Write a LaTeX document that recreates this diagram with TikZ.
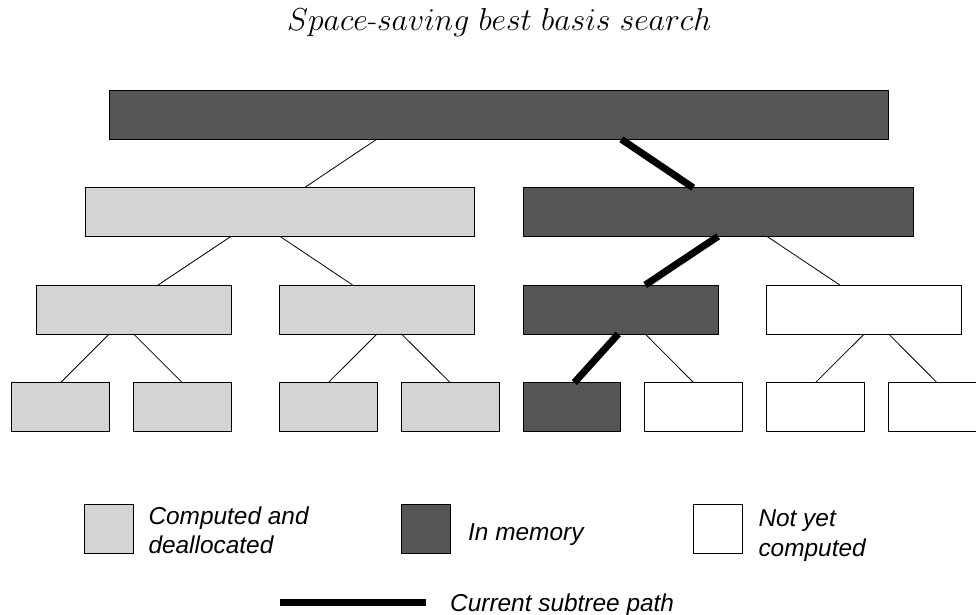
\documentclass[tikz,border=0pt]{standalone}
\usepackage{fontspec}
\newfontfamily\legfont{Liberation Sans}
\usetikzlibrary{calc}
\definecolor{lightg}{RGB}{212,212,212}
\definecolor{darkg}{RGB}{85,85,85}
\begin{document}
\begin{tikzpicture}[x=1bp,y=-1bp,
  box/.style={draw=black, line width=0.8bp, inner sep=0pt, outer sep=0pt},
  done/.style={box, fill=lightg},
  mem/.style={box, fill=darkg},
  todo/.style={box, fill=white},
  lvA/.style={minimum width=779.4bp, minimum height=49bp},
  lvB/.style={minimum width=389.7bp, minimum height=48.6bp},
  lvC/.style={minimum width=195.2bp, minimum height=49bp},
  lvD/.style={minimum width=97.5bp, minimum height=48.8bp},
  sq/.style={minimum width=49bp, minimum height=49bp},
  conn/.style={draw=black, line width=0.8bp},
  cur/.style={draw=black, line width=7bp},
  leg/.style={font=\legfont\itshape\fontsize{24.5}{29}\selectfont, anchor=base west, inner sep=0pt},
]
\useasboundingbox (0,0) rectangle (976,615);
\clip (0,0) rectangle (976,615);

% title
\node[anchor=base, inner sep=0pt, font=\fontsize{24}{29}\selectfont] (title) at (499.3,31) {\scalebox{1.28}{$Space\mbox{-}saving\ best\ basis\ search$}};

% level 0
\node[mem, lvA] (n0) at (499,114.8) {};
% level 1
\node[done, lvB] (n1a) at (279.85,212) {};
\node[mem, lvB] (n1b) at (718.15,212) {};
% level 2
\node[done, lvC] (n2a) at (133.65,309.5) {};
\node[done, lvC] (n2b) at (377,309.5) {};
\node[mem, lvC] (n2c) at (620.8,309.5) {};
\node[todo, lvC] (n2d) at (864.2,309.5) {};
% level 3
\node[done, lvD] (n3a) at (60.65,407) {};
\node[done, lvD] (n3b) at (182.2,407) {};
\node[done, lvD] (n3c) at (328.3,407) {};
\node[done, lvD] (n3d) at (450.2,407) {};
\node[mem, lvD] (n3e) at (571.8,407) {};
\node[todo, lvD] (n3f) at (693.6,407) {};
\node[todo, lvD] (n3g) at (815.5,407) {};
\node[todo, lvD] (n3h) at (937,407) {};

% connectors
\draw[conn] ($(n0.south west)!0.343!(n0.south east)$) -- ($(n1a.north west)!0.563!(n1a.north east)$);
\draw[cur] ($(n0.south west)!0.657!(n0.south east)$) -- ($(n1b.north west)!0.436!(n1b.north east)$);

\draw[conn] ($(n1a.south west)!0.375!(n1a.south east)$) -- ($(n2a.north west)!0.625!(n2a.north east)$);
\draw[conn] ($(n1a.south west)!0.5!(n1a.south east)$) -- ($(n2b.north west)!0.375!(n2b.north east)$);
\draw[cur] ($(n1b.south west)!0.5!(n1b.south east)$) -- ($(n2c.north west)!0.625!(n2c.north east)$);
\draw[conn] ($(n1b.south west)!0.625!(n1b.south east)$) -- ($(n2d.north west)!0.375!(n2d.north east)$);

\draw[conn] ($(n2a.south west)!0.375!(n2a.south east)$) -- (n3a.north);
\draw[conn] ($(n2a.south west)!0.5!(n2a.south east)$) -- (n3b.north);
\draw[conn] ($(n2b.south west)!0.5!(n2b.south east)$) -- (n3c.north);
\draw[conn] ($(n2b.south west)!0.625!(n2b.south east)$) -- (n3d.north);
\draw[cur] ($(n2c.south west)!0.487!(n2c.south east)$) -- ($(n3e.north west)!0.526!(n3e.north east)$);
\draw[conn] ($(n2c.south west)!0.625!(n2c.south east)$) -- (n3f.north);
\draw[conn] ($(n2d.south west)!0.5!(n2d.south east)$) -- (n3g.north);
\draw[conn] ($(n2d.south west)!0.625!(n2d.south east)$) -- (n3h.north);

% legend
\node[done, sq] (kdone) at (108.8,528.7) {};
\node[leg] (tdone1) at (148.3,524.3) {Computed and};
\node[leg] (tdone2) at (148.3,553.8) {deallocated};
\node[mem, sq] (kmem) at (426.2,528.7) {};
\node[leg] (tmem) at (468,540.5) {In memory};
\node[todo, sq] (ktodo) at (717.8,528.7) {};
\node[leg] (ttodo1) at (758.3,526) {Not yet};
\node[leg] (ttodo2) at (758.3,556.5) {computed};
\coordinate (ca) at (280,602);
\coordinate (cb) at (425.7,602);
\draw[cur] (ca) -- (cb);
\node[leg] (tcur) at (450,611.5) {Current subtree path};
\end{tikzpicture}
\end{document}
